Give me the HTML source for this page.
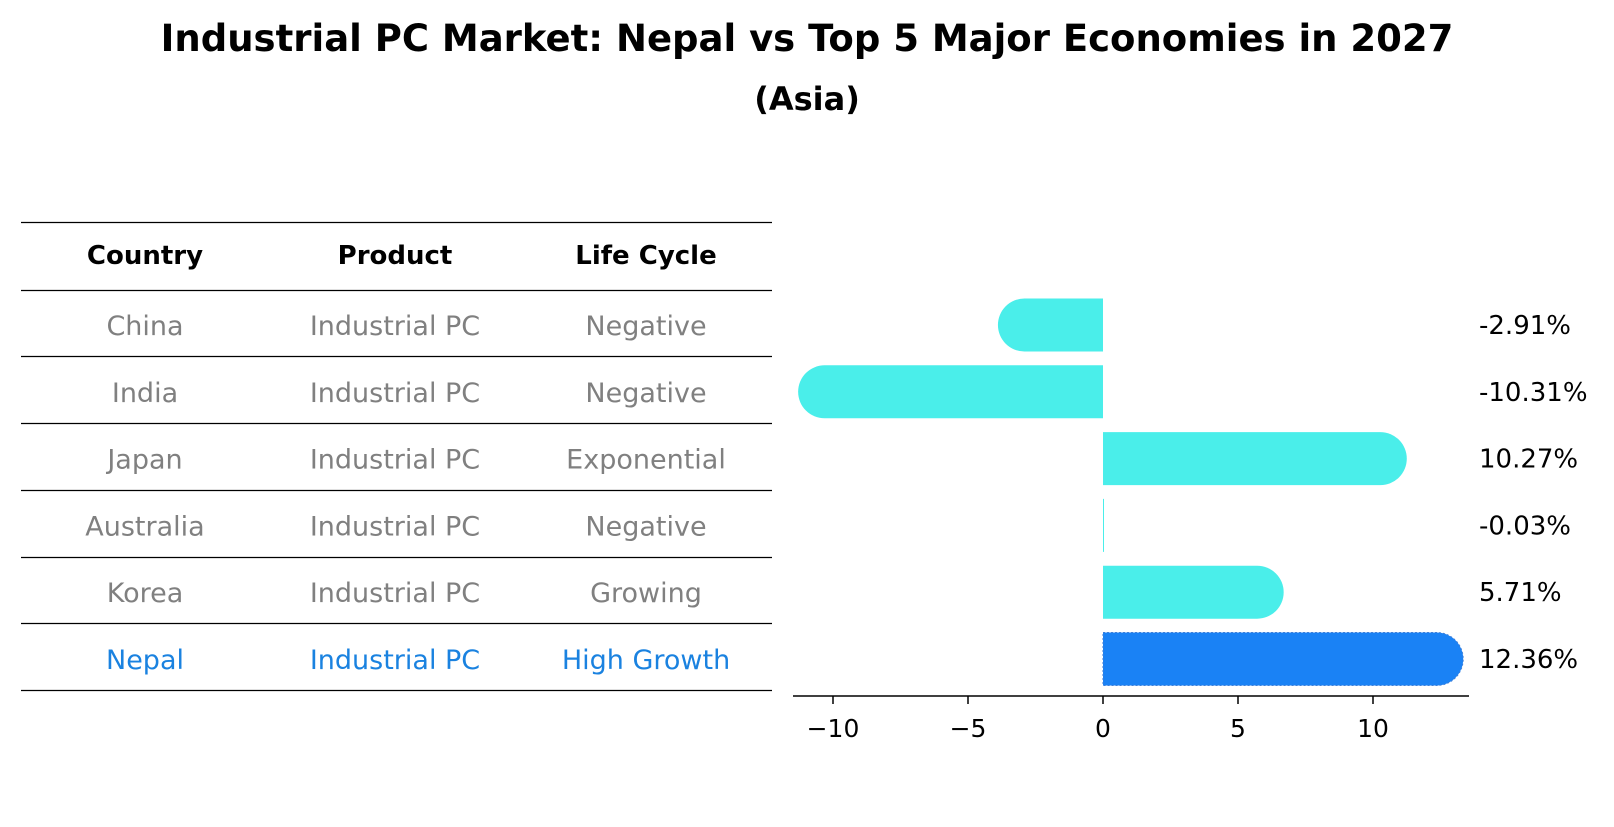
<!DOCTYPE html>
<html><head><meta charset="utf-8"><style>
body{margin:0;background:#fff;font-family:"DejaVu Sans","Liberation Sans",sans-serif;}
svg text{font-family:"DejaVu Sans","Liberation Sans",sans-serif;}
</style></head><body>
<svg id="chart" width="1614" height="823" xmlns="http://www.w3.org/2000/svg">
<text x="807" y="51" text-anchor="middle" font-size="37" font-weight="bold">Industrial PC Market: Nepal vs Top 5 Major Economies in 2027</text>
<text x="807" y="110" text-anchor="middle" font-size="32" font-weight="bold">(Asia)</text>
<g id="table"></g>
<g id="bars"></g>
</svg>
<script>
const countries=["China","India","Japan","Australia","Korea","Nepal"];
const products=["Industrial PC","Industrial PC","Industrial PC","Industrial PC","Industrial PC","Industrial PC"];
const lifeCycles=["Negative","Negative","Exponential","Negative","Growing","High Growth"];
const values=[-2.91,-10.31,10.27,-0.03,5.71,12.36];
const valueLabels=["-2.91%","-10.31%","10.27%","-0.03%","5.71%","12.36%"];
const ticks=[-10,-5,0,5,10];
const tickLabels=["\u221210","\u22125","0","5","10"];
const NS="http://www.w3.org/2000/svg";
function mk(t,a,p){const e=document.createElementNS(NS,t);for(const k in a)e.setAttribute(k,a[k]);p.appendChild(e);return e;}
const tbl=document.getElementById('table'), bars=document.getElementById('bars');
const lineY=[222,290,356,423,490,557,623,690];
const colX=[145,395,646];
lineY.forEach((y,i)=>{const l=mk('line',{x1:21,x2:772,y1:y+0.5,y2:y+0.5,stroke:'#000','stroke-width':1.2},tbl);

});
["Country","Product","Life Cycle"].forEach((h,i)=>{const t=mk('text',{x:colX[i],y:264,'text-anchor':'middle','font-size':26,'font-weight':'bold'},tbl);t.textContent=h;

});
const rowStep=66.8, row0=325;
function yRow(i){return row0+i*rowStep;}
function xs(v){return 1103+v*27;}
countries.forEach((c,i)=>{const col=c==="Nepal"?"#1a82e0":"#808080";
[c,products[i],lifeCycles[i]].forEach((s,j)=>{const t=mk('text',{x:colX[j],y:yRow(i)+10,'text-anchor':'middle','font-size':27,fill:col},tbl);t.textContent=s;

});
const v=values[i],h=53,r=26.5,y0=yRow(i)-h/2,x0=xs(0),x1=xs(v);
let d;
if(Math.abs(x1-x0)<1){d=`M${x0} ${y0}h1v${h}h-1z`;}
else if(v>0){d=`M${x0} ${y0}H${x1}A${r} ${r} 0 0 1 ${x1} ${y0+h}H${x0}Z`;}
else{d=`M${x0} ${y0}H${x1}A${r} ${r} 0 0 0 ${x1} ${y0+h}H${x0}Z`;}
const isN=c==="Nepal";
const p=mk('path',{d:d,fill:isN?'#1a82f5':'#4aeeea'},bars);
if(isN){p.setAttribute('stroke','#3f7fd8');p.setAttribute('stroke-dasharray','2 2');p.setAttribute('stroke-width','1');}


const t=mk('text',{x:1479,y:yRow(i)+9,'font-size':26},bars);t.textContent=valueLabels[i];


});
const ax=mk('line',{x1:793,x2:1469,y1:696,y2:696,stroke:'#000','stroke-width':1.5},bars);


ticks.forEach((tv,i)=>{const x=xs(tv);
const tl=mk('line',{x1:x,x2:x,y1:696,y2:704,stroke:'#000','stroke-width':1.5},bars);


const t=mk('text',{x:x,y:737,'text-anchor':'middle','font-size':25},bars);t.textContent=tickLabels[i];

});
</script>
</body></html>
